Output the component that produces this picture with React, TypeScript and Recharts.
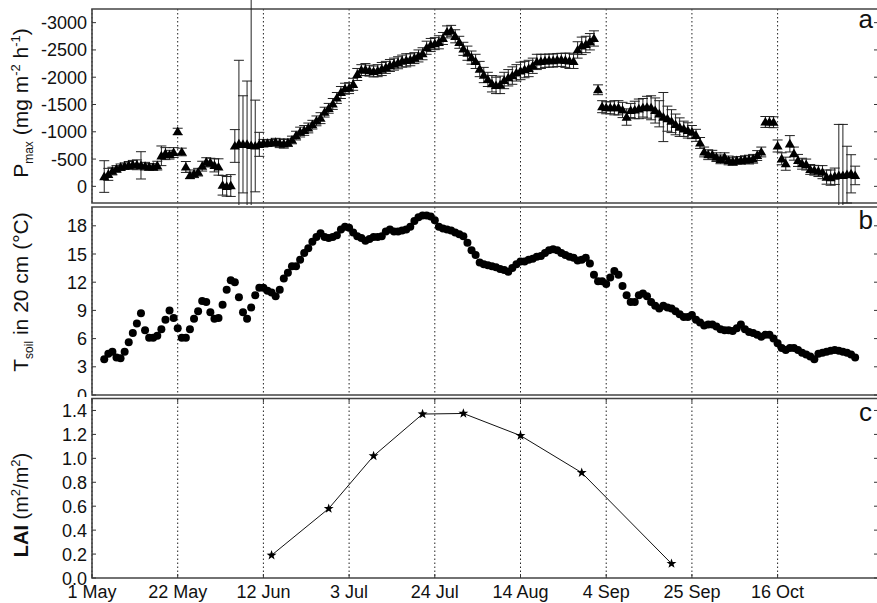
import { CartesianGrid, ComposedChart, ErrorBar, Line, ReferenceArea, Scatter, XAxis, YAxis } from "recharts"

const FONT = "'Liberation Sans', Arial, Helvetica, sans-serif"
const CHART_W = 880
const AXIS_W = 92
const PLOT_R = 878
const X_END = 192.6

// day 0 = 1 May
const dateTicks = [0, 21, 42, 63, 84, 105, 126, 147, 168]
const dateLabels = ["1 May", "22 May", "12 Jun", "3 Jul", "24 Jul", "14 Aug", "4 Sep", "25 Sep", "16 Oct"]

// daily series start on 4 May
const firstDay = 3

// Pmax, mg m-2 h-1 (uptake negative)
const pmax = [
  -180, -220, -280, -320, -350, -370, -385, -395, -395, -385,
  -370, -355, -355, -380, -560, -600, -580, -620, -1005, -630,
  -355, -200, -230, -260, -370, -445, -435, -385, -355, -20,
  0, -15, -740, -780, -770, -770, -750, -740, -770, -790,
  -790, -800, -810, -790, -780, -800, -850, -930, -995, -1025,
  -1070, -1130, -1200, -1250, -1360, -1430, -1510, -1620, -1720, -1790,
  -1800, -1870, -2050, -2130, -2140, -2120, -2105, -2120, -2150, -2180,
  -2215, -2240, -2265, -2295, -2310, -2320, -2350, -2390, -2430, -2540,
  -2590, -2615, -2640, -2710, -2830, -2850, -2750, -2640, -2520, -2440,
  -2360, -2290, -2150, -2040, -1960, -1880, -1850, -1860, -1940, -1990,
  -2030, -2080, -2115, -2140, -2160, -2210, -2280, -2290, -2300, -2305,
  -2305, -2315, -2318, -2310, -2300, -2290, -2500, -2575, -2600, -2650,
  -2710, -1770, -1460, -1440, -1440, -1440, -1440, -1400, -1270, -1390,
  -1400, -1420, -1440, -1450, -1440, -1390, -1330, -1270, -1240, -1195,
  -1135, -1085, -1055, -1025, -995, -935, -795, -630, -580, -580,
  -535, -495, -535, -475, -455, -475, -475, -490, -490, -505,
  -565, -630, -1180, -1180, -1175, -740, -505, -415, -780, -600,
  -475, -415, -400, -310, -295, -280, -260, -170, -160, -185,
  -200, -200, -215, -230, -200,
]

const pmaxErr = [
  290, 110, 70, 60, 60, 60, 70, 80, 90, 250,
  70, 60, 60, 80, 180, 110, 80, 90, 60, 70,
  100, 60, 70, 70, 90, 80, 80, 120, 150, 180,
  180, 200, 300, 1530, 890, 1160, 4000, 840, 220, 70,
  60, 60, 70, 80, 80, 70, 70, 80, 90, 90,
  90, 80, 90, 100, 90, 90, 100, 100, 110, 100,
  100, 110, 110, 100, 110, 100, 100, 110, 120, 110,
  110, 110, 110, 110, 120, 110, 100, 110, 110, 120,
  120, 110, 120, 110, 110, 100, 120, 110, 120, 130,
  120, 130, 140, 140, 130, 150, 150, 160, 150, 150,
  160, 150, 160, 150, 150, 140, 140, 130, 120, 120,
  120, 120, 120, 130, 140, 130, 150, 160, 150, 150,
  140, 90, 110, 110, 110, 130, 130, 140, 150, 130,
  160, 180, 170, 200, 220, 230, 240, 450, 230, 210,
  190, 170, 140, 140, 120, 110, 100, 90, 90, 80,
  80, 80, 80, 80, 70, 70, 70, 70, 80, 80,
  90, 90, 100, 100, 100, 110, 110, 120, 150, 120,
  110, 100, 100, 90, 90, 100, 120, 130, 140, 150,
  935, 935, 520, 350, 170,
]

// soil temperature at 20 cm, °C
const soilTemp = [
  3.8, 4.4, 4.6, 4.0, 3.9, 4.6, 5.6, 6.6, 7.6, 8.7,
  6.9, 6.1, 6.1, 6.3, 7.0, 8.0, 9.0, 8.2, 7.1, 6.1,
  6.1, 7.0, 8.1, 8.9, 10.0, 9.9, 8.8, 8.1, 8.2, 9.6,
  11.2, 12.2, 12.0, 10.4, 8.8, 8.1, 9.3, 10.6, 11.4, 11.4,
  11.1, 10.9, 10.5, 11.2, 12.4, 13.0, 13.7, 13.7, 14.4, 15.1,
  15.6, 16.3, 16.8, 17.2, 16.8, 16.7, 16.8, 17.0, 17.6, 17.9,
  17.8, 17.3, 16.9, 16.7, 16.4, 16.6, 16.8, 16.8, 16.9, 17.4,
  17.6, 17.4, 17.4, 17.5, 17.6, 17.9, 18.5, 18.9, 19.1, 19.1,
  19.0, 18.6, 17.9,
  17.7, 17.6, 17.5, 17.3, 17.1, 16.9, 16.2, 15.4, 14.9, 14.1,
  13.9, 13.8, 13.7, 13.6, 13.4, 13.3, 13.1,
  13.5, 13.9, 14.2, 14.2, 14.4, 14.5, 14.7, 14.8, 15.1, 15.4,
  15.5, 15.4, 15.1, 14.9, 14.7, 14.6, 14.3, 14.4, 14.6, 14.0,
  12.8, 12.1, 12.1, 11.8, 12.5, 13.2, 12.8, 11.6, 10.6, 9.9,
  9.9, 10.6, 10.8, 10.5, 9.9, 9.5, 9.2, 9.5, 9.3, 9.2,
  8.9, 8.6, 8.3, 8.3, 8.5, 8.0, 7.7, 7.4, 7.5, 7.5,
  7.3, 7.0, 6.9, 6.9, 6.8, 7.1, 7.5, 7.0, 6.7, 6.6,
  6.4, 6.2, 6.4, 6.4, 6.0, 5.5, 5.0, 4.8, 5.0, 5.0,
  4.8, 4.5, 4.3, 4.1, 3.8, 4.4, 4.5, 4.6, 4.7, 4.8,
  4.7, 4.6, 4.5, 4.3, 4.0,
]

// leaf area index sampling dates (days after 1 May) and values
const laiDays = [44, 58, 69, 81, 91, 105, 120, 142]
const laiValues = [0.19, 0.58, 1.02, 1.37, 1.375, 1.19, 0.88, 0.12]

const pmaxTicks = [-3000, -2500, -2000, -1500, -1000, -500, 0]
const soilTicks = [0, 3, 6, 9, 12, 15, 18]
const laiTicks = [0, 0.2, 0.4, 0.6, 0.8, 1.0, 1.2, 1.4]

const pmaxData = pmax.map((p, i) => ({ day: firstDay + i, p, err: pmaxErr[i] }))
const soilData = soilTemp.map((t, i) => ({ day: firstDay + i, t }))
const laiData = laiDays.map((day, i) => ({ day, lai: laiValues[i] }))

const axisColor = "#333"
const TICK_FS = 18

function makeYTick(format: (v: number) => string) {
  return (props: any) => {
    const { y, payload } = props
    return (
      <g>
        <line x1={AXIS_W} x2={AXIS_W + 4} y1={y} y2={y} stroke={axisColor} />
        <line x1={PLOT_R - 4} x2={PLOT_R} y1={y} y2={y} stroke={axisColor} />
        <text x={AXIS_W - 5} y={y + 6.5} textAnchor="end" fontSize={TICK_FS} fontFamily={FONT} fill="#111">
          {format(payload.value)}
        </text>
      </g>
    )
  }
}

function makeXTick(top: number, bottom: number, labels: boolean) {
  return (props: any) => {
    const { x, payload } = props
    return (
      <g>
        <line x1={x} x2={x} y1={bottom} y2={bottom - 4} stroke={axisColor} />
        <line x1={x} x2={x} y1={top} y2={top + 4} stroke={axisColor} />
        {labels && (
          <text x={x} y={bottom + 19.5} textAnchor="middle" fontSize={TICK_FS} fontFamily={FONT} fill="#111">
            {dateLabels[dateTicks.indexOf(payload.value)]}
          </text>
        )}
      </g>
    )
  }
}

const triangle = (props: any) => {
  const { cx, cy } = props
  return <path d={`M${cx},${cy - 5}L${cx + 5},${cy + 3.6}L${cx - 5},${cy + 3.6}Z`} fill="#000" />
}

const dot = (props: any) => <circle cx={props.cx} cy={props.cy} r={4} fill="#000" />

function starPath(cx: number, cy: number, r: number, inner: number) {
  let d = ""
  for (let k = 0; k < 10; k++) {
    const rad = k % 2 === 0 ? r : inner
    const a = -Math.PI / 2 + (k * Math.PI) / 5
    d += `${k === 0 ? "M" : "L"}${cx + rad * Math.cos(a)},${cy + rad * Math.sin(a)}`
  }
  return d + "Z"
}

const star = (props: any) => (
  <path key={props.index} d={starPath(props.cx, props.cy, 5.2, 2.1)} fill="#000" />
)

const grid = <CartesianGrid horizontal={false} strokeDasharray="1.5 2.5" stroke="#222" />

export default function App() {
  return (
    <div style={{ position: "absolute", left: 0, top: 0, width: 877, height: 603, overflow: "hidden", background: "#fff" }}>
      {/* a: light-saturated photosynthesis */}
      <ComposedChart width={CHART_W} height={205} margin={{ top: 9, right: CHART_W - PLOT_R, bottom: 2, left: 0 }}>
        {grid}
        <XAxis type="number" dataKey="day" domain={[0, X_END]} ticks={dateTicks} interval={0} height={0}
          axisLine={false} tickLine={false} tick={makeXTick(9, 203, false)} allowDataOverflow />
        <YAxis type="number" domain={[-3250, 305]} reversed ticks={pmaxTicks} interval={0} width={AXIS_W}
          axisLine={false} tickLine={false} tick={makeYTick((v) => String(v))} allowDataOverflow />
        <Scatter data={pmaxData} dataKey="p" shape={triangle} isAnimationActive={false}>
          <ErrorBar dataKey="err" direction="y" width={5} stroke="#222" strokeWidth={1} isAnimationActive={false} />
        </Scatter>
        <ReferenceArea x1={0} x2={X_END} y1={-3250} y2={305} fill="none" stroke="#444" strokeWidth={1.6} />
      </ComposedChart>

      {/* b: soil temperature */}
      <ComposedChart width={CHART_W} height={192} margin={{ top: 2, right: CHART_W - PLOT_R, bottom: 2, left: 0 }}>
        {grid}
        <XAxis type="number" dataKey="day" domain={[0, X_END]} ticks={dateTicks} interval={0} height={0}
          axisLine={false} tickLine={false} tick={makeXTick(2, 190, false)} allowDataOverflow />
        <YAxis type="number" domain={[0, 20]} ticks={soilTicks} interval={0} width={AXIS_W}
          axisLine={false} tickLine={false} tick={makeYTick((v) => String(v))} allowDataOverflow />
        <Scatter data={soilData} dataKey="t" shape={dot} isAnimationActive={false} />
        <ReferenceArea x1={0} x2={X_END} y1={0} y2={20} fill="none" stroke="#444" strokeWidth={1.6} />
      </ComposedChart>

      {/* c: leaf area index */}
      <ComposedChart width={CHART_W} height={206} margin={{ top: 1.5, right: CHART_W - PLOT_R, bottom: 0, left: 0 }}>
        {grid}
        <XAxis type="number" dataKey="day" domain={[0, X_END]} ticks={dateTicks} interval={0} height={25}
          axisLine={false} tickLine={false} tick={makeXTick(1.5, 181, true)} allowDataOverflow />
        <YAxis type="number" domain={[0, 1.5]} ticks={laiTicks} interval={0} width={AXIS_W}
          axisLine={false} tickLine={false} tick={makeYTick((v) => v.toFixed(1))} allowDataOverflow />
        <Line data={laiData} dataKey="lai" type="linear" stroke="#111" strokeWidth={1} dot={star}
          activeDot={false} isAnimationActive={false} />
        <ReferenceArea x1={0} x2={X_END} y1={0} y2={1.5} fill="none" stroke="#444" strokeWidth={1.6} />
      </ComposedChart>

      <svg width={877} height={603} style={{ position: "absolute", left: 0, top: 0, pointerEvents: "none" }}
        fontFamily={FONT} fill="#111">
        <text transform="translate(28,103) rotate(-90)" textAnchor="middle" fontSize={21}>
          P<tspan fontSize={12} dy={5}>max</tspan>
          <tspan dy={-5}> (mg m</tspan>
          <tspan fontSize={13} dy={-8}>-2</tspan>
          <tspan dy={8}> h</tspan>
          <tspan fontSize={13} dy={-8}>-1</tspan>
          <tspan dy={8}>)</tspan>
        </text>
        <text transform="translate(28,292) rotate(-90)" textAnchor="middle" fontSize={21}>
          T<tspan fontSize={12} dy={5}>soil</tspan>
          <tspan dy={-5}> in 20 cm (°C)</tspan>
        </text>
        <text transform="translate(28,505) rotate(-90)" textAnchor="middle" fontSize={20}>
          <tspan fontWeight="bold">LAI</tspan>
          <tspan> (m</tspan>
          <tspan fontSize={13} dy={-8}>2</tspan>
          <tspan dy={8}>/m</tspan>
          <tspan fontSize={13} dy={-8}>2</tspan>
          <tspan dy={8}>)</tspan>
        </text>
        <text x={873} y={28} textAnchor="end" fontSize={26}>a</text>
        <text x={873} y={229} textAnchor="end" fontSize={26}>b</text>
        <text x={872} y={421} textAnchor="end" fontSize={26}>c</text>
      </svg>
    </div>
  )
}
